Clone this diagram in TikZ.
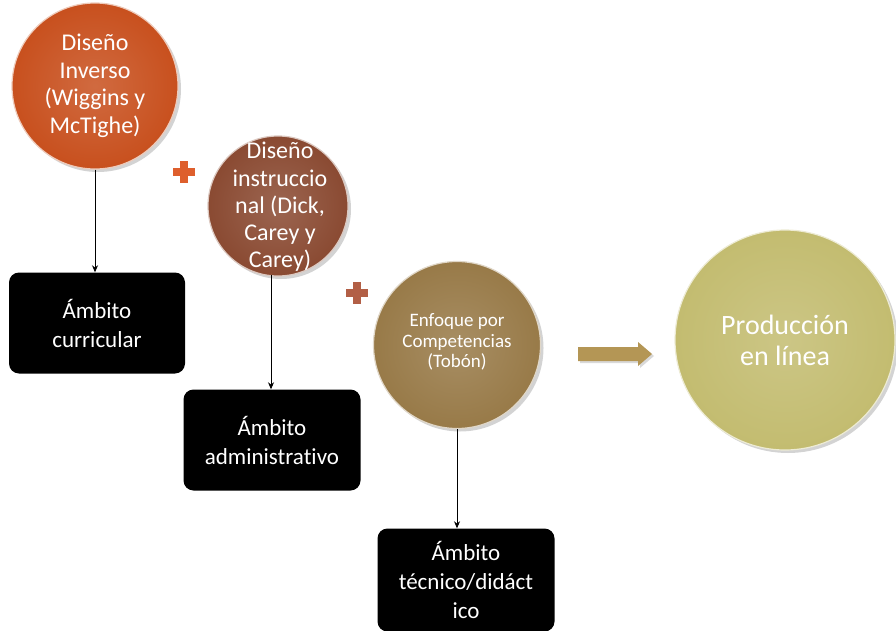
\documentclass[tikz,border=0pt]{standalone}
\usepackage{fontspec}
\setmainfont[Ligatures=NoCommon]{Carlito}
\usetikzlibrary{shadows,arrows.meta}
\definecolor{cOrange}{RGB}{200,80,30}
\definecolor{cBrown}{RGB}{138,74,50}
\definecolor{cGold}{RGB}{152,122,72}
\definecolor{cOlive}{RGB}{195,188,112}
\definecolor{cPlusA}{RGB}{222,95,45}
\definecolor{cPlusB}{RGB}{178,95,70}
\definecolor{cArrow}{RGB}{180,150,85}
\tikzset{
  x=1pt,y=-1pt,
  ball/.style={circle,inner sep=0pt,draw=white!70!#1,line width=1.2pt,
    drop shadow={opacity=0.35,shadow xshift=3pt,shadow yshift=-3pt},
    inner color=#1!85!white,outer color=#1},
  balltext/.style={text=white,align=center,inner sep=0pt},
  blackbox/.style={rounded corners=10pt,fill=black,text=white,align=center,font=\fontsize{23}{29}\selectfont,inner sep=0pt},
  link/.style={draw=black,line width=0.8pt,-{Stealth[length=7pt,width=6pt]}}
}
\begin{document}
\begin{tikzpicture}
\useasboundingbox (0,0) rectangle (896,631);
\node[ball=cOrange,minimum size=166pt] (c1) at (95,86) {};
\node[balltext,font=\fontsize{24}{27.5}\selectfont] (t1) at (c1.center) {Diseño\\Inverso\\(Wiggins y\\McTighe)};
\node[ball=cBrown,minimum size=140pt] (c2) at (278,206) {};
\node[balltext,font=\fontsize{24}{27.3}\selectfont] (t2) at (280,207) {Diseño\\instruccio\\nal (Dick,\\Carey y\\Carey)};
\node[ball=cGold,minimum size=167pt] (c3) at (457,345) {};
\node[balltext,font=\fontsize{19}{20.5}\selectfont] (t3) at (457,342) {Enfoque por\\Competencias\\(Tobón)};
\node[ball=cOlive,minimum size=220pt] (c4) at (785,340) {};
\node[balltext,font=\fontsize{28}{31}\selectfont] (t4) at (c4.center) {Producción\\en línea};
\node[blackbox,minimum width=176pt,minimum height=101pt] (b1) at (97,323) {Ámbito\\curricular};
\node[blackbox,minimum width=177pt,minimum height=101pt] (b2) at (272,440) {Ámbito\\administrativo};
\node[blackbox,minimum width=177pt,minimum height=103pt] (b3) at (466,580) {Ámbito\\técnico/didáct\\ico};
\coordinate (s2) at (271,275);
\draw[link] (c1.south) -- (c1.south |- b1.north);
\draw[link] (s2) -- (s2 |- b2.north);
\draw[link] (c3.south) -- (c3.south |- b3.north);
% plus signs
\coordinate (p1) at (184,172);
\coordinate (p2) at (357,293);
\fill[cPlusA] ([shift={(-4,-11)}]p1) rectangle ([shift={(4,11)}]p1);
\fill[cPlusA] ([shift={(-11,-4)}]p1) rectangle ([shift={(11,4)}]p1);
\fill[cPlusB] ([shift={(-4,-11)}]p2) rectangle ([shift={(4,11)}]p2);
\fill[cPlusB] ([shift={(-11,-4)}]p2) rectangle ([shift={(11,4)}]p2);
% arrow
\coordinate (a1) at (578,354);
\coordinate (a2) at (652,354);
\fill[cArrow,drop shadow={opacity=0.3,shadow xshift=2pt,shadow yshift=-2pt}]
  ([shift={(0,-7)}]a1) -- ([shift={(-14,-7)}]a2) -- ([shift={(-14,-12)}]a2) -- (a2)
  -- ([shift={(-14,12)}]a2) -- ([shift={(-14,7)}]a2) -- ([shift={(0,7)}]a1) -- cycle;
\end{tikzpicture}
\end{document}
